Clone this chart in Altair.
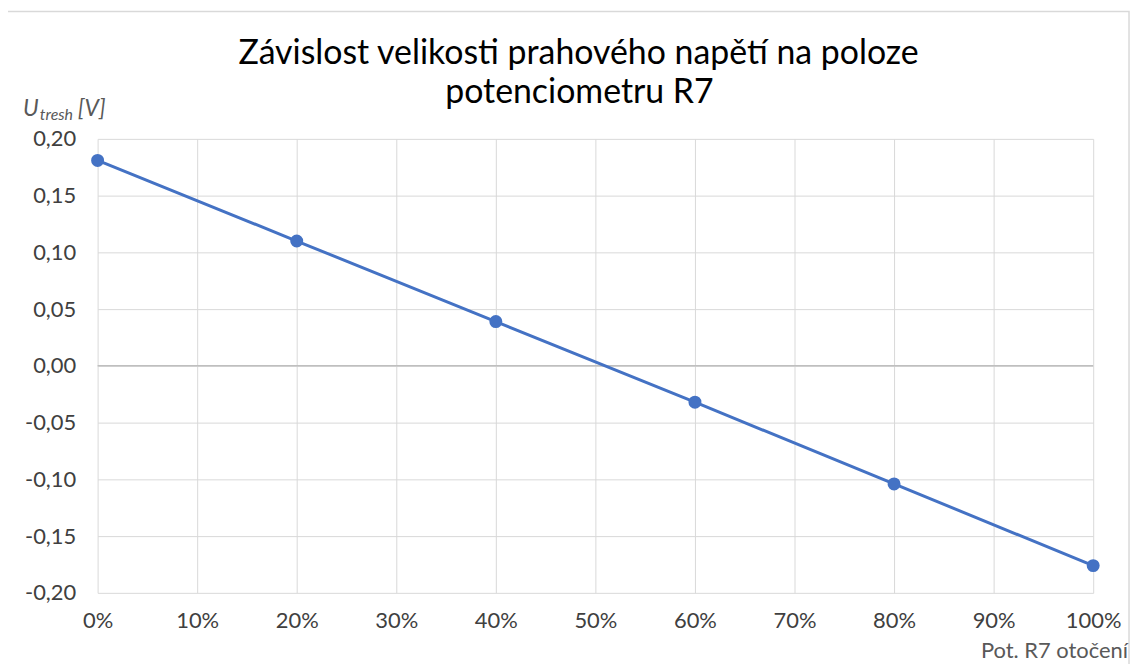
import altair as alt
import pandas as pd

positions = [0, 0.2, 0.4, 0.6, 0.8, 1.0]
u_tresh = [0.181, 0.110, 0.039, -0.032, -0.104, -0.176]

title_lines = ["Závislost velikosti prahového napětí na poloze", "potenciometru R7"]
x_title = "Pot. R7 otočení"

df = pd.DataFrame({"pos": positions, "u": u_tresh})

FONT = "Lato"
W, H = 1000, 456
BLUE = "#4472C4"
GRAY = "#595959"

xs = alt.Scale(domain=[0, 1])
ys = alt.Scale(domain=[-0.2, 0.2])

base = alt.Chart(df)

line = base.mark_line(color=BLUE, strokeWidth=3).encode(
    x=alt.X("pos:Q", scale=xs, axis=alt.Axis(
        values=[i / 10 for i in range(11)], format=".0%", title=None,
        grid=True, gridColor="#d9d9d9", domain=False, ticks=False, labelFlush=False,
        labelFontSize=22, labelColor="#404040", labelPadding=18, labelFont=FONT)),
    y=alt.Y("u:Q", scale=ys, axis=alt.Axis(
        values=[-0.2, -0.15, -0.1, -0.05, 0, 0.05, 0.1, 0.15, 0.2],
        labelExpr="(datum.value < -0.0001 ? '-' : '') + replace(format(abs(datum.value), '.2f'), '.', ',')",
        title=None, grid=True, gridColor="#d9d9d9", domain=False, ticks=False, labelFlush=False,
        labelFontSize=22, labelColor="#404040", labelPadding=22, labelFont=FONT)),
)
pts = base.mark_circle(color=BLUE, size=170, opacity=1).encode(
    x=alt.X("pos:Q", scale=xs), y=alt.Y("u:Q", scale=ys))

zero = alt.Chart(pd.DataFrame({"z": [0]})).mark_rule(color="#bfbfbf", strokeWidth=1.5).encode(
    y=alt.Y("z:Q", scale=ys))

border = alt.Chart(pd.DataFrame({"a": [0]})).mark_rect(
    fill=None, stroke="#d9d9d9", strokeWidth=1.5).encode(
    x=alt.value(-91), x2=alt.value(1036), y=alt.value(-128), y2=alt.value(540))


def label(text, size, x, y, align="left", color=GRAY, style="normal"):
    return alt.Chart(pd.DataFrame({"t": [text]})).mark_text(
        font=FONT, fontSize=size, fontStyle=style, color=color, align=align,
        baseline="alphabetic").encode(
        text="t:N", x=alt.value(x), y=alt.value(y))


t1 = label(title_lines[0], 34, 483, -75, align="center", color="#000000")
t2 = label(title_lines[1], 34, 484, -36, align="center", color="#000000")
ax_u = label("U", 23, -75, -23, style="italic")
ax_sub = label("tresh", 16, -58, -19, style="italic")
ax_v = label("[V]", 23, -20, -23, style="italic")
xt = label(x_title, 22, 1035, 521, align="right")

chart = alt.layer(border, zero, line, pts, t1, t2, ax_u, ax_sub, ax_v, xt).properties(
    width=W, height=H,
    autosize=alt.AutoSizeParams(type="none"),
    padding={"left": 90, "top": 130, "right": 40, "bottom": 70},
).configure_view(stroke=None)

chart.save("out.html", embed_options={"renderer": "svg", "actions": False})
